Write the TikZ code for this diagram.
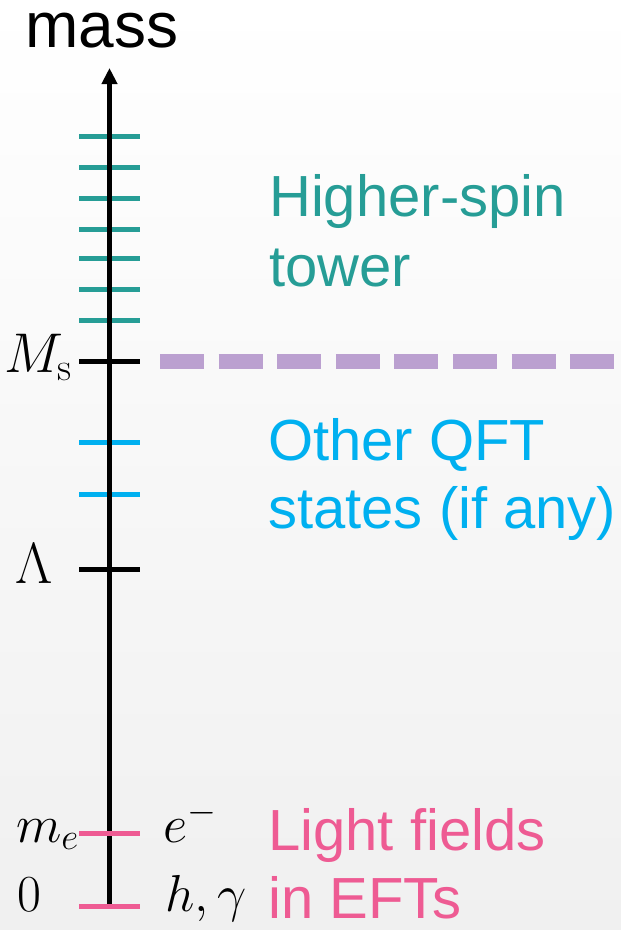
\RequirePackage{fix-cm}
\documentclass[tikz,border=0pt]{standalone}
\usepackage[no-math]{fontspec}
\setmainfont{Liberation Sans}
\usetikzlibrary{arrows.meta}
\definecolor{tealc}{RGB}{38,157,150}
\definecolor{bluec}{RGB}{0,176,240}
\definecolor{pinkc}{RGB}{238,91,147}
\definecolor{purplec}{RGB}{187,160,208}
\definecolor{bgbot}{RGB}{240,240,240}
\begin{document}
\begin{tikzpicture}[x=1pt,y=-1pt,
  mtick/.style={line width=5pt},
  axisline/.style={line width=5pt,black,-{Triangle[length=16pt,width=15pt]}},
  msdash/.style={line width=15pt,purplec,dash pattern=on 44pt off 14.6pt},
  lbl/.style={inner sep=0pt,anchor=base west,font=\fontsize{58}{70}\selectfont},
  mlbl/.style={inner sep=0pt}]
\fill[top color=white,bottom color=bgbot] (0,0) rectangle (621,930);
\useasboundingbox (0,0) rectangle (621,930);
% axis ends
\coordinate (bot) at (109.5,906);
\coordinate (top) at (109.5,68);
% higher-spin and QFT ticks (under the axis)
\foreach \y in {136.7,167.3,198,229.3,258.7,289.3,320}
  \draw[mtick,tealc] (79,\y) -- (140,\y);
\foreach \y in {442,494}
  \draw[mtick,bluec] (79,\y) -- (140,\y);
% axis
\draw[axisline] (bot) -- (top);
% black ticks
\draw[mtick,black] (79,361) -- (140,361);
\draw[mtick,black] (79,569) -- (140,569);
% pink ticks
\draw[mtick,pinkc] (79,833) -- (140,833);
\draw[mtick,pinkc] (79,906) -- (140,906);
% string scale dashed line
\coordinate (d0) at (160,361);
\coordinate (d1) at (615,361);
\draw[msdash] (d0) -- (d1);
% axis title
\node[inner sep=0pt,anchor=base,text height=34pt,text depth=0pt,font=\fontsize{64}{70}\selectfont] (mass) at (102,47) {mass};
% left math labels
\node[mlbl,anchor=base east,font=\fontsize{56}{60}\selectfont] (Ms) at (72,372) {$M_{\mathrm{s}}$};
\node[mlbl,anchor=base,font=\fontsize{58}{60}\selectfont] (Lam) at (34.5,583) {$\Lambda$};
\node[mlbl,anchor=base east,font=\fontsize{53}{56}\selectfont] (me) at (79,842) {$m_e$};
\node[mlbl,anchor=base,font=\fontsize{52}{56}\selectfont] (zero) at (29.5,911) {$0$};
% right math labels
\node[mlbl,anchor=base west,font=\fontsize{53}{56}\selectfont] (elec) at (163,842) {$e^-$};
\node[mlbl,anchor=base west,font=\fontsize{52}{56}\selectfont] (hg) at (165,911) {$h,\gamma$};
% coloured text
\node[lbl,text=tealc] (hs1) at (269,216) {Higher-spin};
\node[lbl,text=tealc] (hs2) at (269,286) {tower};
\node[lbl,text=bluec] (qft1) at (268,460) {Other QFT};
\node[lbl,text=bluec] (qft2) at (268,528) {states (if any)};
\node[lbl,text=pinkc] (lf1) at (268,850) {Light fields};
\node[lbl,text=pinkc] (lf2) at (268,918) {in EFTs};
\end{tikzpicture}
\end{document}
